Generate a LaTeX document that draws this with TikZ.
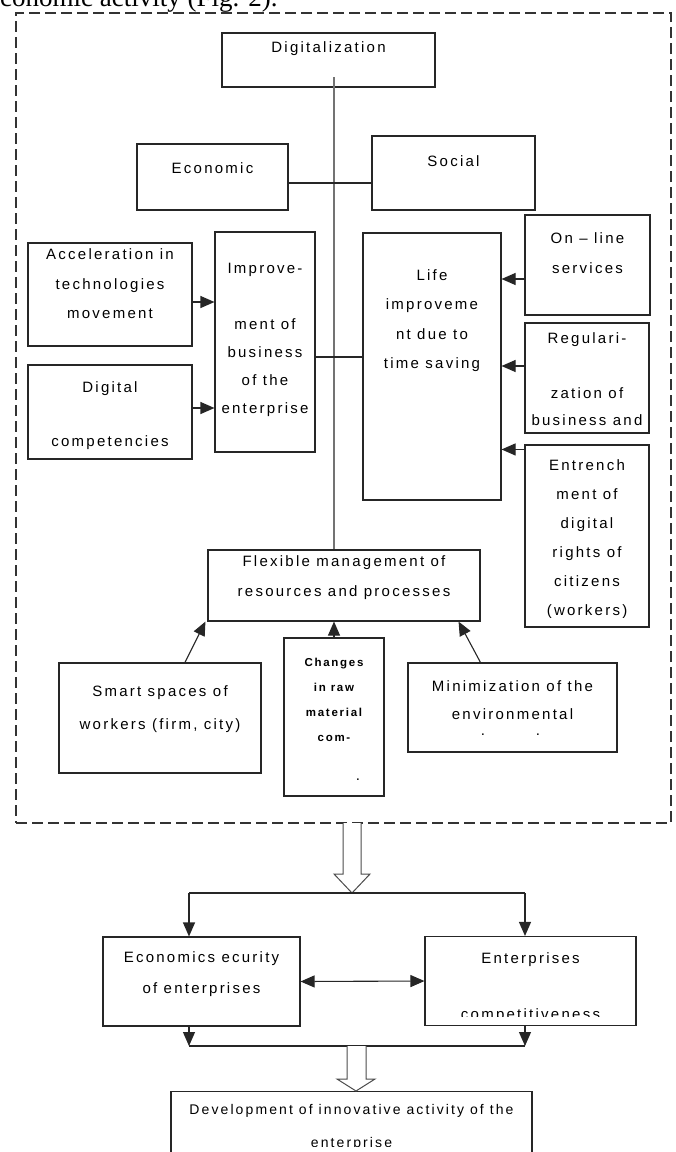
\documentclass[tikz,border=0pt]{standalone}
\usepackage{fontspec}
\newfontfamily\boxfont[LetterSpace=15]{Liberation Sans}
\newfontfamily\pagefont{Liberation Serif}
\usetikzlibrary{arrows.meta}

\begin{document}
\begin{tikzpicture}
[x=1pt, y=-1pt,
 box/.style={rectangle, draw=black!85, line width=1.1pt, inner sep=0pt},
 txt/.style={align=center, inner sep=0pt, text=black, font=\boxfont\fontsize{15}{#1}\selectfont},
 txt/.default=28,
 arr/.style={-{Triangle[length=14pt, width=12pt]}, line width=1.1pt, draw=black!85},
 link/.style={line width=1.1pt, draw=black!85},
 trunk/.style={line width=1.4pt, draw=black!55},
 framebox/.style={rectangle, draw=black!80, line width=1.1pt, dash pattern=on 11pt off 5pt, inner sep=0pt},
 hollow/.style={draw=black!70, line width=1pt, fill=white}]
\useasboundingbox (0,0) rectangle (676,1152);

% text above the figure
\node[anchor=base west, inner sep=0pt, font=\pagefont\fontsize{27}{30}\selectfont] (pagetext) at (-12,6) {economic activity (Fig. 2).};

% dashed frame
\node[framebox, minimum width=655, minimum height=810] (frame) at (343.5,418) {};

% top level
\node[box, minimum width=213, minimum height=54] (digit) at (328.5,60) {};
\node[txt] (digittxt) at (328.5,49) {Digitalization};
\node[box, minimum width=151, minimum height=66] (econ) at (212.5,177) {};
\node[txt] (econtxt) at (212.5,168) {Economic};
\node[box, minimum width=163, minimum height=74] (social) at (453.5,173) {};
\node[txt] (socialtxt) at (453.5,161) {Social};

% economic side
\node[box, minimum width=164, minimum height=103] (accel) at (110,294.5) {};
\node[txt=29.5] (acceltxt) at (110,284) {Acceleration in\\technologies\\movement};
\node[box, minimum width=164, minimum height=94] (digital) at (110,412) {};
\node[txt=27] (digitaltxt) at (110,416) {Digital\\[27pt]competencies};
\node[box, minimum width=100, minimum height=220] (improve) at (265,342) {};
\node[txt=28] (improvetxt) at (265,340) {Improve-\\[28pt]ment of\\business\\of the\\enterprise};

% social side
\node[box, minimum width=138, minimum height=267] (life) at (432,366.5) {};
\node[txt=29.5] (lifetxt) at (432,320.5) {Life\\improveme\\nt due to\\time saving};
\node[box, minimum width=125, minimum height=100] (online) at (587.5,265) {};
\node[txt=30] (onlinetxt) at (587.5,253) {On \textendash{} line\\services};
\node[box, minimum width=124, minimum height=110] (regul) at (587,378) {};
\node[txt=27.3] (regultxt) at (587,379) {Regulari-\\[27.3pt]zation of\\business and};
\node[box, minimum width=124, minimum height=182] (entr) at (587,536) {};
\begin{scope}
\clip (525,445) rectangle (649,617);
\node[txt=29] (entrtxt) at (587,539.5) {Entrench\\ment of\\digital\\rights of\\citizens\\(workers)};
\end{scope}

% management level
\node[box, minimum width=272, minimum height=71] (flex) at (344,585.5) {};
\node[txt=30] (flextxt) at (344,578) {Flexible management of\\resources and processes};
\node[box, minimum width=202, minimum height=110] (smart) at (160,718) {};
\node[txt=33] (smarttxt) at (160,709.5) {Smart spaces of\\workers (firm, city)};
\node[box, minimum width=100, minimum height=158] (chg) at (334,717) {};
\node[txt, font=\boxfont\bfseries\fontsize{11.5}{25}\selectfont] (chgtxt) at (334,699.5) {Changes\\in raw\\material\\com-};
\node[txt] (dotA) at (358,780) {.};
\node[box, minimum width=209, minimum height=89] (minim) at (512.5,707.5) {};
\node[txt=28] (minimtxt) at (512.5,700) {Minimization of the\\environmental};
\node[txt] (dotB) at (483,735) {.};
\node[txt] (dotC) at (538,735) {.};

% results
\node[box, minimum width=197, minimum height=89] (esec) at (201.5,981.5) {};
\node[txt=31] (esectxt) at (201.5,974.5) {Economics ecurity\\of enterprises};
\node[box, minimum width=211, minimum height=89] (enter) at (530.5,981) {};
\begin{scope}
\clip (425,936) rectangle (636,1016);
\node[txt=28] (entertxt) at (530.5,988) {Enterprises\\[28pt]competitiveness};
\end{scope}
\node[box, minimum width=361, minimum height=80, anchor=north] (devel) at (351.5,1091) {};
\begin{scope}
\clip (171,1091) rectangle (532,1146);
\node[txt, font=\boxfont\fontsize{14}{33}\selectfont] (develtxt) at (351.5,1127.5) {Development of innovative activity of the\\enterprise};
\end{scope}

% trunk and branches
\coordinate (trunktop) at (334,77);
\coordinate (esjoin) at (334,183);
\coordinate (iljoin) at (334,357);
\draw[trunk] (trunktop) -- (trunktop |- flex.north);
\draw[link] (esjoin -| econ.east) -- (esjoin -| social.west);
\draw[link] (iljoin -| improve.east) -- (iljoin -| life.west);

% arrows into the middle boxes
\coordinate (accelarr) at ([yshift=-7.5pt]accel.east);
\coordinate (digitalarr) at ([yshift=4pt]digital.east);
\coordinate (onlinearr) at ([yshift=-14pt]online.west);
\coordinate (regularr) at ([yshift=12pt]regul.west);
\coordinate (entrarr) at ([yshift=-5pt]entr.north west);
\draw[arr] (accelarr) -- (accelarr -| improve.west);
\draw[arr] (digitalarr) -- (digitalarr -| improve.west);
\draw[arr] (onlinearr) -- (onlinearr -| life.east);
\draw[arr] (regularr) -- (regularr -| life.east);
\draw[arr] (entrarr) -- (entrarr -| life.east);
\draw[arr] ([xshift=25pt]smart.north) -- ([xshift=-2pt]flex.south west);
\draw[arr] (chg.north) -- (chg.north |- flex.south);
\draw[arr] ([xshift=-32pt]minim.north) -- ([xshift=-22pt]flex.south east);

% hollow arrow out of the frame
\draw[hollow] (343,823) -- (343,874) -- (334,874) -- (352,893) -- (370,874) -- (361,874) -- (361,823);

% split to the two results
\coordinate (splitL) at (189,893);
\coordinate (splitR) at (525,893);
\draw[link] (splitL) -- (splitR);
\draw[arr] (splitL) -- (splitL |- esec.north);
\draw[arr] (splitR) -- (splitR |- enter.north);
\draw[arr, {Triangle[length=14pt, width=12pt]}-{Triangle[length=14pt, width=12pt]}] (esec.east) -- (enter.west);
\coordinate (joinL) at (189,1046);
\coordinate (joinR) at (525,1046);
\draw[arr] (joinL |- esec.south) -- (joinL);
\draw[arr] (joinR |- enter.south) -- (joinR);
\draw[link] (joinL) -- (joinR);

% hollow arrow into the last box
\draw[hollow] (347,1046) -- (347,1079) -- (337,1079) -- (356,1091) -- (375,1079) -- (366,1079) -- (366,1046);
\end{tikzpicture}
\end{document}
